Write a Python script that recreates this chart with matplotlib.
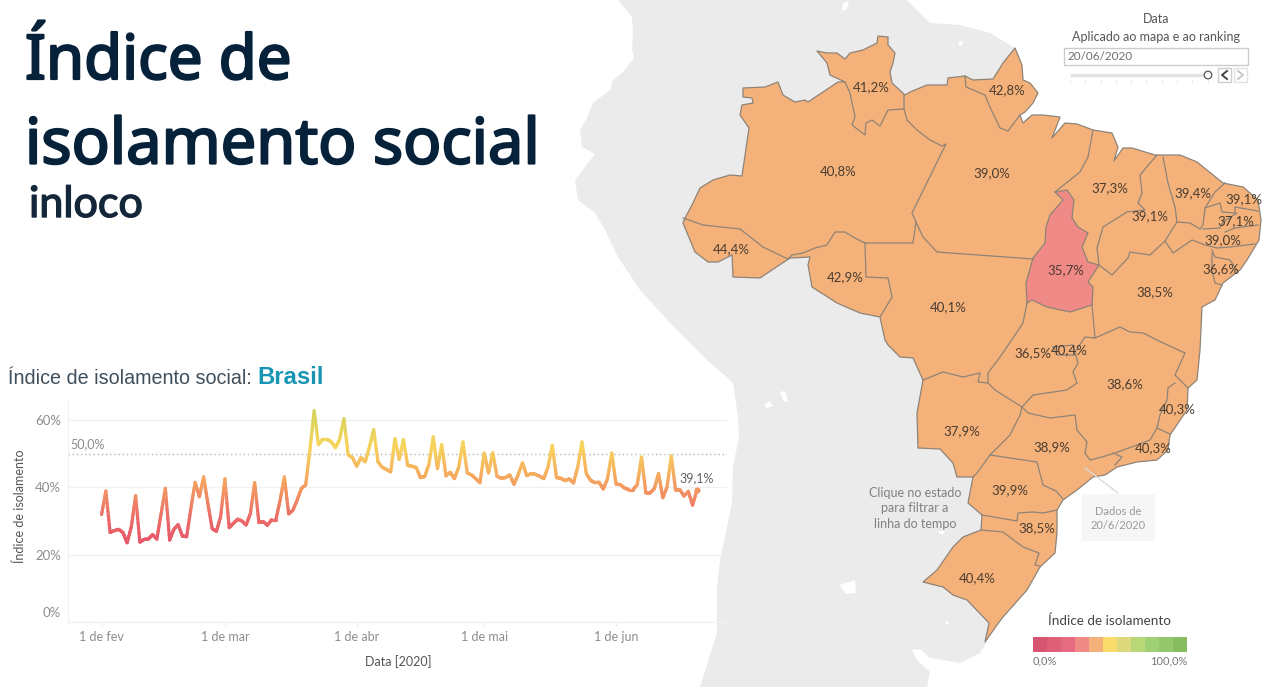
import numpy as np
import pandas as pd
from matplotlib import pyplot as plt, dates as md, ticker as tk, patheffects as pe
from matplotlib.collections import LineCollection
from matplotlib.colors import LinearSegmentedColormap
from matplotlib.patches import Polygon, Rectangle, Circle

plt.rcParams['font.family'] = ['Lato', 'DejaVu Sans']

W, H = 1280, 687

# daily index for Brasil, from 1 Feb 2020 to 20 Jun 2020
indice = [
	31.9, 38.9, 26.6, 27.1, 27.5, 26.6, 23.5, 28.3, 37.5, 23.7, 24.5, 24.6, 25.9, 24.6, 32.2,
	39.7, 24.3, 27.5, 28.9, 25.5, 25.3, 33.7, 41.5, 37.2, 43.1, 35.2, 27.7, 26.9, 31.3, 42.5,
	28.0, 29.3, 30.5, 30.0, 28.8, 32.2, 41.4, 29.5, 29.8, 28.7, 30.4, 30.4, 36.2, 43.1, 32.1,
	33.2, 36.2, 39.7, 40.7, 51.1, 62.8, 52.7, 54.3, 54.3, 53.6, 51.8, 54.3, 60.4, 49.6, 48.9,
	46.3, 48.9, 47.6, 52.0, 57.2, 47.6, 46.0, 45.3, 44.6, 54.5, 48.3, 54.2, 46.5, 46.3, 45.9,
	42.9, 43.2, 46.9, 55.0, 45.6, 52.7, 43.4, 44.5, 42.6, 46.0, 53.5, 44.3, 43.7, 42.6, 41.4,
	50.2, 44.3, 50.3, 43.3, 42.7, 42.9, 43.7, 40.9, 43.8, 47.3, 43.5, 44.1, 43.9, 43.3, 42.6,
	46.0, 52.5, 42.9, 42.7, 42.0, 42.5, 41.3, 46.1, 53.5, 44.1, 42.1, 41.4, 41.5, 39.5, 42.6,
	50.2, 41.0, 40.8, 39.8, 39.3, 39.3, 40.8, 49.0, 38.4, 38.3, 39.6, 44.1, 36.9, 40.1, 49.3,
	39.2, 39.3, 37.4, 38.8, 34.7, 39.1,
]
month_ticks = ['2020-02-01', '2020-03-01', '2020-04-01', '2020-05-01', '2020-06-01']
month_labels = ['1 de fev', '1 de mar', '1 de abr', '1 de mai', '1 de jun']
y_ticks = [0, 20, 40, 60]

# state values and where their labels sit on the map
estados = ['RR', 'AP', 'AM', 'PA', 'MA', 'CE', 'RN', 'PI', 'PB', 'PE', 'AC', 'TO', 'AL', 'RO',
	'BA', 'MT', 'GO', 'DF', 'MG', 'ES', 'MS', 'SP', 'RJ', 'PR', 'SC', 'RS']
valores = [41.2, 42.8, 40.8, 39.0, 37.3, 39.4, 39.1, 39.1, 37.1, 39.0, 44.4, 35.7, 36.6, 42.9,
	38.5, 40.1, 36.5, 40.4, 38.6, 40.3, 37.9, 38.9, 40.3, 39.9, 38.5, 40.4]
label_x = [871, 1007, 838, 992, 1110, 1193, 1244, 1150, 1236, 1223, 731, 1066, 1221, 845,
	1155, 948, 1033, 1069, 1125, 1177, 962, 1052, 1153, 1010, 1037, 977]
label_y = [87, 90, 171, 173, 188, 193, 199, 216, 221, 240, 249, 270, 269, 277,
	292, 307, 353, 350, 384, 409, 431, 447, 448, 490, 528, 578]

legenda_cores = ['#d65570', '#df5f78', '#e56b83', '#ef8a87', '#f4b27a', '#fadc6c',
	'#dcd97c', '#b8d878', '#9fd074', '#94c76c', '#85bd5f']

# outlines, in pixels
continente = [(618, 0), (632, 17), (633, 33), (632, 50), (634, 58), (623, 72), (613, 80), (610, 90),
	(593, 103), (587, 118), (580, 130), (582, 147), (595, 154), (575, 180), (578, 200), (595, 213),
	(605, 230), (618, 257), (640, 290), (672, 325), (707, 360), (733, 383), (738, 417), (739, 437),
	(733, 467), (732, 503), (720, 560), (717, 587), (717, 633), (700, 687), (927, 687), (930, 672),
	(917, 660), (912, 650), (920, 649), (930, 658), (960, 663), (980, 653), (987, 642), (1000, 300),
	(1015, 48), (990, 33), (960, 25), (930, 23), (907, 0)]
lagos = [[(843, 3), (849, 1), (847, 9), (842, 11)], [(959, 41), (963, 41), (962, 46), (959, 45)],
	[(764, 405), (769, 401), (773, 406), (767, 408)], [(780, 392), (785, 391), (788, 401), (784, 402)],
	[(839, 585), (855, 580), (856, 593), (846, 594)], [(937, 532), (945, 530), (943, 535)],
	[(945, 623), (949, 621), (948, 625)]]
brasil = [(817, 51), (827, 53), (837, 53), (845, 59), (850, 53), (863, 50), (877, 43), (878, 36), (888, 37),
	(888, 45), (895, 53), (893, 63), (890, 72), (892, 83), (905, 95), (910, 92), (927, 85), (947, 85),
	(948, 78), (965, 76), (973, 80), (993, 79), (1003, 63), (1015, 48), (1022, 65), (1023, 80), (1030, 83),
	(1038, 93), (1033, 103), (1025, 112), (1020, 115), (1023, 123), (1032, 115), (1043, 115), (1060, 117),
	(1052, 138), (1065, 123), (1077, 124), (1093, 130), (1112, 133), (1118, 147), (1114, 161), (1123, 148),
	(1132, 148), (1155, 155), (1180, 155), (1197, 162), (1223, 183), (1243, 187), (1258, 200), (1261, 220),
	(1259, 240), (1247, 260), (1240, 270), (1223, 283), (1215, 300), (1202, 307), (1200, 350), (1197, 380),
	(1188, 388), (1187, 410), (1170, 435), (1168, 450), (1157, 460), (1137, 462), (1117, 467), (1105, 475),
	(1093, 477), (1077, 490), (1063, 500), (1057, 510), (1057, 533), (1055, 553), (1040, 567), (1027, 590),
	(1003, 617), (997, 625), (985, 642), (989, 623), (967, 600), (953, 595), (943, 587), (923, 582), (937, 570),
	(953, 547), (963, 537), (981, 530), (982, 515), (968, 503), (973, 477), (957, 477), (953, 463), (940, 449),
	(918, 448), (917, 413), (923, 380), (913, 358), (900, 357), (888, 345), (885, 340), (880, 317), (860, 313),
	(837, 303), (812, 287), (808, 265), (810, 257), (790, 258), (760, 278), (733, 277), (732, 255), (718, 262),
	(708, 262), (695, 252), (683, 223), (685, 218), (693, 203), (700, 188), (713, 180), (730, 175), (742, 176),
	(749, 128), (740, 115), (742, 105), (753, 103), (752, 98), (743, 97), (743, 88), (765, 87), (778, 82),
	(783, 95), (795, 102), (805, 100), (808, 102), (823, 92), (838, 82), (845, 82), (830, 75), (827, 63)]
tocantins = [(1055, 192), (1067, 190), (1074, 200), (1072, 218), (1078, 227), (1088, 233), (1082, 247),
	(1088, 262), (1099, 265), (1088, 282), (1093, 287), (1092, 305), (1070, 312), (1047, 307), (1032, 300),
	(1027, 303), (1026, 283), (1033, 258), (1045, 243), (1046, 227), (1050, 215), (1063, 200)]
fronteiras = [
	[(845, 82), (850, 93), (855, 117), (852, 125), (865, 135), (866, 123), (872, 120), (880, 126), (888, 110), (904, 109), (904, 95)],
	[(904, 109), (907, 120), (917, 130), (930, 140), (942, 146), (946, 144), (912, 213), (916, 222), (913, 243), (865, 243)],
	[(865, 243), (853, 237), (845, 232), (835, 232), (827, 245), (815, 248), (803, 253), (792, 255), (788, 259)],
	[(683, 218), (703, 225), (740, 229), (763, 247), (788, 259)],
	[(865, 243), (866, 277), (888, 278), (892, 297), (880, 317)],
	[(916, 222), (923, 237), (937, 252), (1033, 259)],
	[(965, 76), (966, 87), (985, 95), (990, 107), (1000, 128), (1008, 131), (1020, 115)],
	[(1093, 130), (1088, 157), (1080, 172), (1055, 192)],
	[(1157, 155), (1140, 175), (1142, 193), (1138, 203), (1145, 210), (1127, 212), (1103, 227), (1097, 248), (1099, 265)],
	[(1099, 265), (1112, 275), (1128, 258), (1130, 252), (1150, 255), (1165, 241), (1177, 222)],
	[(1163, 157), (1168, 183), (1175, 207), (1177, 222), (1190, 223), (1200, 229), (1203, 225), (1205, 208), (1215, 192), (1225, 183)],
	[(1205, 208), (1220, 203), (1222, 212), (1235, 213), (1235, 207), (1258, 211)],
	[(1203, 229), (1220, 228), (1223, 222), (1237, 213)],
	[(1225, 232), (1235, 228), (1258, 225)],
	[(1165, 241), (1173, 253), (1192, 240), (1205, 245), (1217, 248), (1230, 247), (1255, 244)],
	[(1212, 250), (1215, 257), (1230, 260), (1238, 272)],
	[(1212, 253), (1212, 270), (1215, 283), (1222, 285)],
	[(1092, 305), (1095, 338), (1120, 327), (1130, 332), (1143, 333), (1163, 343), (1185, 353), (1175, 375), (1188, 388)],
	[(1175, 383), (1168, 388), (1167, 400), (1160, 415), (1157, 428), (1170, 434)],
	[(1157, 428), (1150, 440), (1137, 445), (1115, 453), (1102, 457), (1090, 460), (1085, 453), (1087, 442), (1077, 430), (1075, 415), (1050, 418), (1028, 413), (1022, 407)],
	[(1113, 453), (1122, 457), (1115, 465)],
	[(1022, 407), (1033, 395), (1067, 390), (1077, 383), (1073, 372), (1078, 363), (1075, 352), (1085, 337), (1095, 338)],
	[(1053, 347), (1073, 345), (1075, 355), (1057, 355), (1053, 347)],
	[(1027, 303), (1023, 323), (1013, 338), (1000, 357), (988, 373), (988, 383), (995, 390), (1022, 407)],
	[(923, 380), (943, 372), (963, 377), (980, 373), (978, 382), (988, 383)],
	[(1022, 407), (1020, 415), (1010, 435), (990, 455), (977, 473), (973, 477)],
	[(990, 455), (1037, 462), (1043, 485), (1056, 491), (1063, 499)],
	[(982, 515), (1017, 521), (1018, 513), (1033, 512), (1043, 513), (1057, 510)],
	[(981, 530), (1003, 532), (1023, 547), (1039, 553), (1035, 565), (1040, 566)],
]

GRAY = '#8c8c8c'
DARK = '#06213a'
BORDER = '#8f8377'

def cor_estado(v):
	''' stepped colour of a state, as in the legend '''
	return legenda_cores[3] if v < 36 else legenda_cores[4]

fig = plt.figure(figsize=(W / 100, H / 100), dpi=100, facecolor='white')
bg = fig.add_axes([0, 0, 1, 1])
bg.set_xlim(0, W)
bg.set_ylim(H, 0)
bg.axis('off')

# map
bg.add_patch(Polygon(continente, fc='#ebebeb', ec='none'))
for lago in lagos:
	bg.add_patch(Polygon(lago, fc='white', ec='none'))
bg.add_patch(Polygon(brasil, fc=legenda_cores[4], ec=BORDER, lw=0.9, joinstyle='round'))
bg.add_patch(Polygon(tocantins, fc=cor_estado(35.7), ec=BORDER, lw=0.9, joinstyle='round'))
for f in fronteiras:
	xs, ys = zip(*f)
	bg.plot(xs, ys, color=BORDER, lw=0.9, solid_joinstyle='round')
for v, x, y in zip(valores, label_x, label_y):
	bg.text(x, y, f'{v:.1f}%'.replace('.', ','), ha='center', va='center', fontsize=9.5, color='#4a3c30')

# titles, stroked a little because no semibold face is installed
grosso = [pe.withStroke(linewidth=1.6, foreground=DARK)]
bg.text(25, 79, 'Índice de', fontsize=44.5, color=DARK, family='Noto Sans', path_effects=grosso)
bg.text(25, 163.5, 'isolamento social', fontsize=45.5, color=DARK, family='Noto Sans', path_effects=grosso)
bg.text(29, 217, 'inloco', fontsize=31, color='#14263a', family='Lato', path_effects=[pe.withStroke(linewidth=1, foreground='#14263a')])
bg.text(8, 384, 'Índice de isolamento social:', fontsize=14.2, color='#3f4f5c', family='Liberation Sans')
bg.text(257.5, 384, 'Brasil', fontsize=17.2, color='#1795b3', family='Liberation Sans', weight='bold')

# date slider
bg.text(1156, 19, 'Data', ha='center', va='center', fontsize=9, color='#555555')
bg.text(1156, 37, 'Aplicado ao mapa e ao ranking', ha='center', va='center', fontsize=9, color='#555555')
bg.add_patch(Rectangle((1064, 48), 184, 17, fc='white', ec='#cccccc', lw=1))
bg.text(1067, 57, '20/06/2020', va='center', fontsize=8.5, color='#707070')
bg.plot([1070, 1205], [75, 75], color='#e3e3e3', lw=2.5, solid_capstyle='butt')
bg.vlines(np.arange(1070, 1210, 15.3), 80, 83, color='#e6e6e6', lw=0.8)
bg.add_patch(Circle((1208, 75), 3.8, fc='white', ec='#555555', lw=0.9, zorder=3))
bg.add_patch(Rectangle((1218, 68), 13, 14, fc='white', ec='#cfcfcf', lw=1))
bg.add_patch(Rectangle((1234, 68), 13, 14, fc='white', ec='#e2e2e2', lw=1))
bg.plot([1227, 1222, 1227], [71, 75, 79], color='#444444', lw=1.4)
bg.plot([1238, 1243, 1238], [71, 75, 79], color='#c8c8c8', lw=1.4)

# notes on the map
bg.text(915, 508.5, 'Clique no estado\npara filtrar a\nlinha do tempo', ha='center', va='center', fontsize=9,
	color='#808080', linespacing=1.33)
bg.plot([1085, 1118], [468, 493], color='#d8d8d8', lw=0.9)
bg.add_patch(Rectangle((1082, 494), 73, 47, fc='#f6f6f6', ec='none'))
bg.text(1118, 518.5, 'Dados de\n20/6/2020', ha='center', va='center', fontsize=8, color='#9a9a9a', linespacing=1.4)

# legend
bg.text(1110, 621, 'Índice de isolamento', ha='center', va='center', fontsize=9.7, color='#444444')
cell = (1187 - 1033) / len(legenda_cores)
for i, c in enumerate(legenda_cores):
	bg.add_patch(Rectangle((1033 + i * cell, 637), cell, 15, fc=c, ec='none'))
bg.text(1033, 661, '0,0%', va='center', fontsize=8, color='#777777')
bg.text(1187, 661, '100,0%', va='center', ha='right', fontsize=8, color='#777777')

# timeline
left, right, top, bottom = 68, 727, 400, 621.7
ax = fig.add_axes([left / W, 1 - bottom / H, (right - left) / W, (bottom - top) / H])
ax.patch.set_alpha(0)
dias = md.date2num(pd.date_range('2020-02-01', periods=len(indice)))
vals = np.array(indice)

grad = LinearSegmentedColormap.from_list('grad', [(0, '#e5526c'), (0.25, '#ec7168'), (0.5, '#f5a560'),
	(0.75, '#f8d45c'), (1, '#d6d45e')])

# split every day into short pieces only to draw the colour gradient along the line
px, py = [], []
for a, b, c, d in zip(dias[:-1], dias[1:], vals[:-1], vals[1:]):
	px.extend(np.linspace(a, b, 10, endpoint=False))
	py.extend(np.linspace(c, d, 10, endpoint=False))
px.append(dias[-1])
py.append(vals[-1])
pts = np.column_stack([px, py])
segs = np.stack([pts[:-1], pts[1:]], axis=1)
lc = LineCollection(segs, cmap=grad, lw=2.3, capstyle='round', zorder=3)
lc.set_array((pts[:-1, 1] + pts[1:, 1]) / 2)
lc.set_clim(22, 62)
ax.add_collection(lc)
ax.scatter(dias[-1], vals[-1], s=20, color=grad((vals[-1] - 22) / 40), zorder=4, lw=0)

ax.set_xlim(dias[0] - 7.9, dias[0] + 147.1)
ax.set_ylim(0, 66)
ax.set_xticks(md.date2num(pd.to_datetime(month_ticks)))
ax.set_xticklabels(month_labels)
ax.set_yticks(y_ticks)
ax.yaxis.set_major_formatter(tk.FuncFormatter(lambda v, _: f'{v:.0f}%' if v > 0 else ''))
ax.tick_params(axis='x', length=3, color='#ececec', labelsize=9, labelcolor=GRAY, pad=4)
ax.tick_params(axis='y', length=0, labelsize=9.5, labelcolor=GRAY, pad=5)
ax.grid(axis='y', color='#f1f1f1', lw=1)
ax.set_axisbelow(True)
for s in ('top', 'right'):
	ax.spines[s].set_visible(False)
for s in ('left', 'bottom'):
	ax.spines[s].set_color('#f1f1f1')
# the lowest tick label sits above the axis line
ax.annotate('0%', xy=(0, 0), xycoords=('axes fraction', 'data'), xytext=(-5, 6.2), textcoords='offset points',
	ha='right', va='center', fontsize=9.5, color=GRAY)
ax.axhline(50, color='#b5b5b5', lw=1, ls=(0, (1, 2)), zorder=2)
ax.text(dias[0] - 7.4, 51, '50,0%', fontsize=9, color=GRAY, va='bottom')
ax.text(dias[-1], 41, '39,1%', fontsize=9, color='#666666', ha='center', va='bottom')
ax.set_ylabel('Índice de isolamento', fontsize=9, color='#555555', va='center')
ax.yaxis.set_label_coords((20 - left) / (right - left), 0.52)
ax.set_xlabel('Data [2020]', fontsize=9, color='#555555', va='center')
ax.xaxis.set_label_coords((398 - left) / (right - left), (bottom - 662) / (bottom - top))

plt.savefig('out.png', dpi=100)
